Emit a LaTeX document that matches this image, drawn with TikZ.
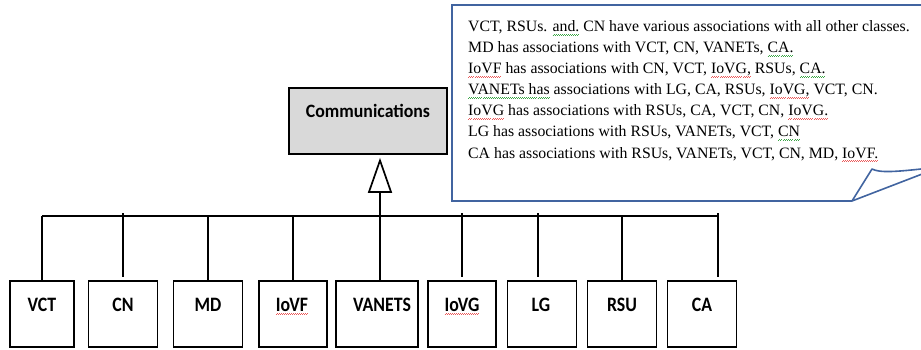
\documentclass[tikz,border=0pt]{standalone}
\usepackage{graphicx}
\usepackage{fontspec}
\setmainfont{Liberation Serif}
\newfontfamily\calibfont{Carlito}
\usetikzlibrary{arrows.meta}
\definecolor{callblue}{RGB}{65,100,160}
\definecolor{boxgray}{RGB}{217,217,217}
\definecolor{wavered}{RGB}{235,90,90}
\definecolor{wavegreen}{RGB}{60,165,70}
\newcommand\wav[2]{\setbox0\hbox{#2}\leavevmode\rlap{\textcolor{#1}{\xleaders\hbox{\rule[-3.6pt]{1pt}{0.55pt}\rule[-3.0pt]{1pt}{0.55pt}}\hskip\wd0}}\box0\relax}
\newcommand\redw[1]{\wav{wavered}{#1}}
\newcommand\grnw[1]{\wav{wavegreen}{#1}}
\newcommand\tallbox[1]{\scalebox{1}[1.15]{#1}}
\tikzset{
  classbox/.style={draw, line width=1.7pt, minimum height=66pt, inner sep=0pt},
  lbl/.style={font=\calibfont\bfseries\fontsize{17.8}{20}\selectfont, inner sep=0pt, anchor=base},
  conn/.style={line width=1.7pt},
  noteline/.style={font=\fontsize{15.8}{18}\selectfont, anchor=base west, inner sep=0pt},
}
\begin{document}
\begin{tikzpicture}[x=1pt,y=-1pt]
\useasboundingbox (0,0) rectangle (921,350);
\clip (0,0) rectangle (921,350);

% superclass
\node[draw, line width=1.7pt, fill=boxgray, minimum width=158pt, minimum height=66pt, inner sep=0pt] (comm) at (368,121) {};
\node[lbl] (commt) at (368,117.5) {\scalebox{1}[1.06]{Communications}};

% subclasses
\node[classbox, minimum width=64pt] (vct) at (42,314) {};
\node[classbox, minimum width=69pt] (cn) at (123,314) {};
\node[classbox, minimum width=69pt] (md) at (208,314) {};
\node[classbox, minimum width=68pt] (iovf) at (293,314) {};
\node[classbox, minimum width=82pt] (vanets) at (377,314) {};
\node[classbox, minimum width=68pt] (iovg) at (462,314) {};
\node[classbox, minimum width=69pt] (lg) at (542,314) {};
\node[classbox, minimum width=69pt] (rsu) at (622,314) {};
\node[classbox, minimum width=69pt] (ca) at (702,314) {};

\node[lbl] (vctl) at (42,311) {\tallbox{VCT}};
\node[lbl] (cnl) at (123,311) {\tallbox{CN}};
\node[lbl] (mdl) at (208,311) {\tallbox{MD}};
\node[lbl] (iovfl) at (292,311) {\redw{\tallbox{IoVF}}};
\node[lbl] (vanetsl) at (382,311) {\tallbox{VANETS}};
\node[lbl] (iovgl) at (462,311) {\redw{\tallbox{IoVG}}};
\node[lbl] (lgl) at (541,311) {\tallbox{LG}};
\node[lbl] (rsul) at (622,311) {\tallbox{RSU}};
\node[lbl] (cal) at (702,311) {\tallbox{CA}};

% bus
\coordinate (busL) at (42,216);
\coordinate (busR) at (718,216);
\coordinate (busC) at (380,216);
\draw[conn] (busL) -- (busR);
\draw[conn] (busL) -- (vct.north);
\draw[conn, shorten <=-3pt, shorten >=3pt] (busL -| cn.north) -- (cn.north);
\draw[conn] (busL -| md.north) -- (md.north);
\draw[conn] (busL -| iovf.north) -- (iovf.north);
\draw[conn] (busC) -- (busC |- vanets.north);
\draw[conn, shorten <=-3pt, shorten >=3pt] (busL -| iovg.north) -- (iovg.north);
\draw[conn, shorten <=-3pt, shorten >=3pt] ([xshift=-4pt]busL -| lg.north) -- ([xshift=-4pt]lg.north);
\draw[conn] (busL -| rsu.north) -- (rsu.north);
\draw[conn, shorten <=-3pt, shorten >=3pt] (busR) -- (busR |- ca.north);

% generalization arrow
\draw[conn, -{Triangle[open, length=35pt, width=24pt]}, shorten >=3pt] (busC) -- (busC |- comm.south);

% callout
\fill[white] (852,201) -- (452,201) -- (452,5) -- (930,5) -- (930,172) -- cycle;
\draw[callblue, line width=1.6pt, line join=miter] (852,201) -- (452,201) -- (452,5) -- (930,5);
\draw[callblue, line width=1.6pt, line join=round] (852,201) -- (872,169) .. controls (880,173) and (895,172) .. (930,168);
\draw[callblue, line width=1.6pt] (852,201) -- (930,171);

\node[noteline] (n1) at (468,32) {VCT, RSUs. \grnw{and.} CN have various associations with all other classes.};
\node[noteline] (n2) at (468,53) {MD has associations with VCT, CN, VANETs, \grnw{CA.}};
\node[noteline] (n3) at (468,74) {\redw{IoVF} has associations with CN, VCT, \redw{IoVG,} RSUs, \grnw{CA.}};
\node[noteline] (n4) at (468,95) {\grnw{VANETs has} associations with LG, CA, RSUs, \redw{IoVG,} VCT, CN.};
\node[noteline] (n5) at (468,116) {\redw{IoVG} has associations with RSUs, CA, VCT, CN, \redw{IoVG.}};
\node[noteline] (n6) at (468,137) {LG has associations with RSUs, VANETs, VCT, \grnw{CN}};
\node[noteline] (n7) at (468,158) {CA has associations with RSUs, VANETs, VCT, CN, MD, \redw{IoVF.}};
\end{tikzpicture}
\end{document}
